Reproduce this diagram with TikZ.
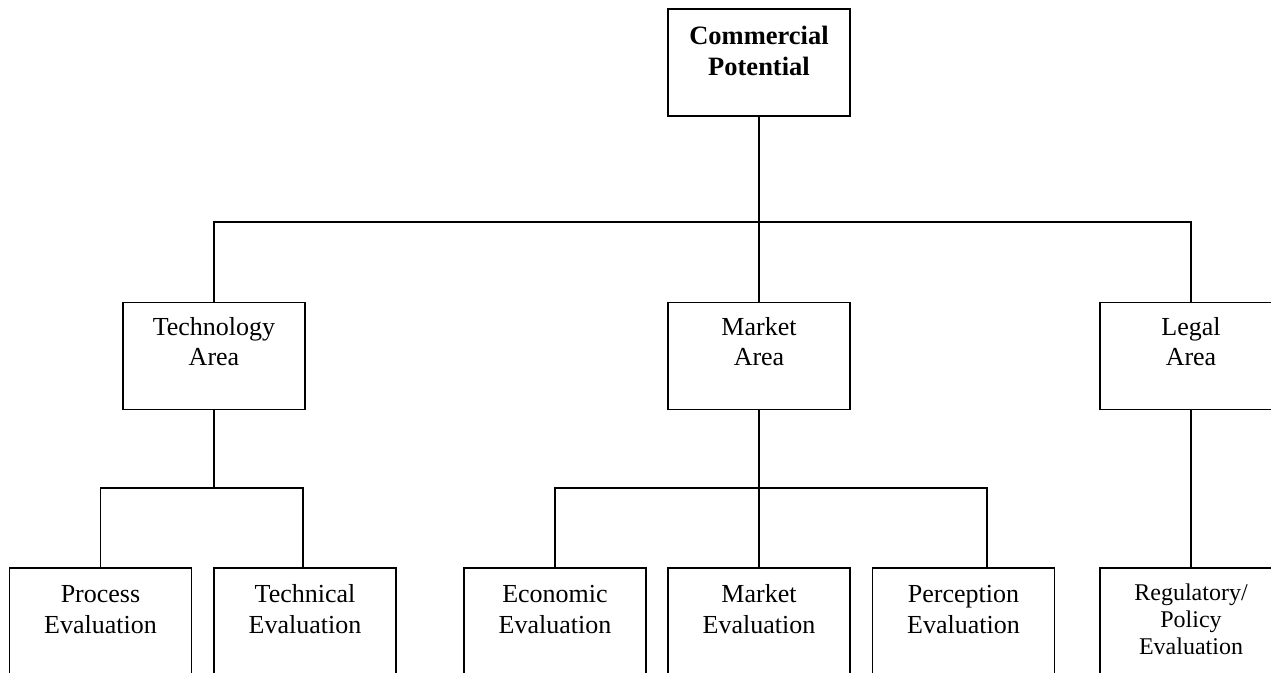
\documentclass[tikz,border=0pt]{standalone}
\usepackage{fontspec}
\setmainfont{Liberation Serif}
\begin{document}
\begin{tikzpicture}[x=1pt,y=-1pt,
  box/.style={draw, line width=1.6pt, rectangle, minimum width=182pt, inner sep=0pt},
  boxt/.style={box, minimum height=107pt},
  boxb/.style={box, minimum height=140pt},
  txt/.style={anchor=north, inner sep=0pt, align=center},
  conn/.style={line width=1.6pt}]
\useasboundingbox (0,0) rectangle (1271,672);
\clip (0,0) rectangle (1271,672);
% boxes
\node[boxt] (top) at (759,62.5) {};
\node[boxt] (tech) at (214,356) {};
\node[boxt] (mkt) at (759,356) {};
\node[boxt] (legal) at (1191,356) {};
\node[boxb] (proc) at (100.5,638) {};
\node[boxb] (techn) at (305,638) {};
\node[boxb] (econ) at (555,638) {};
\node[boxb] (mkev) at (759,638) {};
\node[boxb] (perc) at (963.5,638) {};
\node[boxb] (reg) at (1191,638) {};
% texts
\node[txt, font=\fontsize{26.5}{31}\selectfont\bfseries] (ttop) at (top.north) {\rule{0pt}{36pt}Commercial\\Potential};
\node[txt, font=\fontsize{26}{30}\selectfont] (ttech) at (tech.north) {\rule{0pt}{34pt}Technology\\Area};
\node[txt, font=\fontsize{26}{30}\selectfont] (tmkt) at (mkt.north) {\rule{0pt}{34pt}Market\\Area};
\node[txt, font=\fontsize{26}{30}\selectfont] (tlegal) at (legal.north) {\rule{0pt}{34pt}Legal\\Area};
\node[txt, font=\fontsize{26}{31}\selectfont] (tproc) at (proc.north) {\rule{0pt}{35pt}Process\\Evaluation};
\node[txt, font=\fontsize{26}{31}\selectfont] (ttechn) at (techn.north) {\rule{0pt}{35pt}Technical\\Evaluation};
\node[txt, font=\fontsize{26}{31}\selectfont] (tecon) at (econ.north) {\rule{0pt}{35pt}Economic\\Evaluation};
\node[txt, font=\fontsize{26}{31}\selectfont] (tmkev) at (mkev.north) {\rule{0pt}{35pt}Market\\Evaluation};
\node[txt, font=\fontsize{26}{31}\selectfont] (tperc) at (perc.north) {\rule{0pt}{35pt}Perception\\Evaluation};
\node[txt, font=\fontsize{24}{27}\selectfont] (treg) at (reg.north) {\rule{0pt}{33pt}Regulatory/\\Policy\\Evaluation};
% connector points
\coordinate (busA) at (759,222);
\coordinate (busT) at (214,488);
\coordinate (busM) at (759,488);
\coordinate (pin) at ([xshift=23.5pt]perc.north);
\coordinate (tin) at ([xshift=-2pt]techn.north);
% connectors
\draw[conn] (top.south) -- (busA);
\draw[conn] (busA) -| (tech.north);
\draw[conn] (busA) -- (mkt.north);
\draw[conn] (busA) -| (legal.north);
\draw[conn] (tech.south) -- (busT);
\draw[conn] (busT) -| (proc.north);
\draw[conn] (busT) -| (tin);
\draw[conn] (mkt.south) -- (busM);
\draw[conn] (busM) -| (econ.north);
\draw[conn] (busM) -- (mkev.north);
\draw[conn] (busM) -| (pin);
\draw[conn] (legal.south) -- (reg.north);
\end{tikzpicture}
\end{document}
